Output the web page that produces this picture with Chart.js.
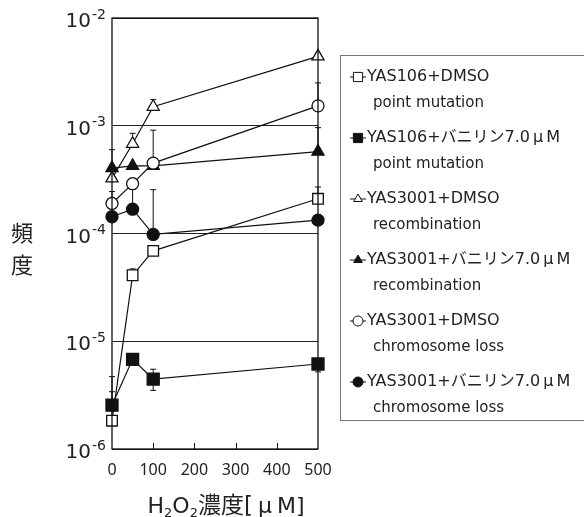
<!DOCTYPE html>
<html>
<head>
<meta charset="utf-8">
<script src="https://cdn.jsdelivr.net/npm/chart.js@4/dist/chart.umd.min.js"></script>
<style>
  html, body { margin: 0; padding: 0; background: #fff; }
  #wrap { width: 584px; height: 517px; }
</style>
</head>
<body>
<div id="wrap"><canvas id="chart" width="584" height="517"></canvas></div>
<script>
// --- data ---
const concentrations = [0, 50, 100, 500];
const xTickValues = [0, 100, 200, 300, 400, 500];
const yTickValues = [1e-6, 1e-5, 1e-4, 1e-3, 1e-2];
const yTickExponents = ['-6', '-5', '-4', '-3', '-2'];

const seriesNames = [
    'YAS106+DMSO', 'YAS106+バニリン7.0μM', 'YAS3001+DMSO',
    'YAS3001+バニリン7.0μM', 'YAS3001+DMSO', 'YAS3001+バニリン7.0μM'
];
const seriesSubs = [
    'point mutation', 'point mutation', 'recombination',
    'recombination', 'chromosome loss', 'chromosome loss'
];

const pm106Dmso     = [1.83e-6, 4.1e-5, 6.9e-5, 2.1e-4];
const pm106Van      = [2.55e-6, 6.8e-6, 4.45e-6, 6.15e-6];
const rec3001Dmso   = [3.25e-4, 6.8e-4, 1.5e-3, 4.4e-3];
const rec3001Van    = [4.05e-4, 4.25e-4, 4.25e-4, 5.75e-4];
const cl3001Dmso    = [1.9e-4, 2.9e-4, 4.5e-4, 1.53e-3];
const cl3001Van     = [1.43e-4, 1.68e-4, 9.8e-5, 1.33e-4];

// error bar ends (null = none)
const pm106DmsoHi   = [3.4e-6, 4.7e-5, null, 2.7e-4];
const pm106VanHi    = [4.7e-6, 7.3e-6, 5.5e-6, 6.6e-6];
const pm106VanLo    = [null, null, 3.5e-6, 5.2e-6];
const rec3001DmsoHi = [null, 8.5e-4, 1.75e-3, null];
const rec3001VanHi  = [6.0e-4, null, null, 9.6e-4];
const cl3001DmsoHi  = [2.45e-4, null, 9.1e-4, 2.5e-3];
const cl3001VanHi   = [null, 2.6e-4, 2.55e-4, null];

const seriesValues = [pm106Dmso, pm106Van, rec3001Dmso, rec3001Van, cl3001Dmso, cl3001Van];
const seriesHi = [pm106DmsoHi, pm106VanHi, rec3001DmsoHi, rec3001VanHi, cl3001DmsoHi, cl3001VanHi];
const seriesLo = [null, pm106VanLo, null, null, null, null];
const pointStyles = ['rect', 'rect', 'triangle', 'triangle', 'circle', 'circle'];
const filled = [false, true, false, true, false, true];
const radii = [7.5, 8.5, 7, 7, 6, 6];
const drawOrder = [3, 4, 2, 5, 0, 1];

const INK = '#111';
const JP_FONT = '"Noto Sans CJK JP", sans-serif';
const LEGEND_FONT = '"DejaVu Sans", "Noto Sans CJK JP", sans-serif';
const NUM_FONT = '"DejaVu Sans", sans-serif';

const datasets = seriesValues.map((vals, i) => ({
    label: seriesNames[i],
    data: concentrations.map((x, j) => ({ x: x, y: vals[j] })),
    showLine: true,
    clip: false,
    borderColor: INK,
    borderWidth: 1.2,
    pointStyle: pointStyles[i],
    pointRadius: radii[i],
    pointBackgroundColor: filled[i] ? INK : '#fff',
    pointBorderColor: INK,
    pointBorderWidth: 1.3,
    order: drawOrder[i]
}));

// draws text, putting a small gap on both sides of μ (full-width look)
function fillSpaced(ctx, text, x, y, gap) {
    const bits = text.split('μ');
    bits.forEach((b, k) => {
        ctx.fillText(b, x, y);
        x += ctx.measureText(b).width;
        if (k < bits.length - 1) {
            x += gap;
            ctx.fillText('μ', x, y);
            x += ctx.measureText('μ').width + gap;
        }
    });
}

// Helper: error bars, frame, tick marks, labels and legend
const extrasPlugin = {
    id: 'extras',
    beforeDatasetsDraw(chart) {
        const ctx = chart.ctx;
        const xs = chart.scales.x, ys = chart.scales.y;
        ctx.save();
        ctx.strokeStyle = INK;
        ctx.lineWidth = 1;
        seriesValues.forEach((vals, i) => {
            concentrations.forEach((c, j) => {
                const px = xs.getPixelForValue(c);
                const py = ys.getPixelForValue(vals[j]);
                [seriesHi[i], seriesLo[i]].forEach(arr => {
                    if (!arr || arr[j] == null) return;
                    const ey = ys.getPixelForValue(arr[j]);
                    ctx.beginPath();
                    ctx.moveTo(px, py);
                    ctx.lineTo(px, ey);
                    ctx.moveTo(px - 3, ey);
                    ctx.lineTo(px + 3, ey);
                    ctx.stroke();
                });
            });
        });
        ctx.restore();
    },
    afterDraw(chart) {
        const ctx = chart.ctx;
        const a = chart.chartArea;
        const xs = chart.scales.x, ys = chart.scales.y;
        ctx.save();

        // inner x tick marks
        ctx.strokeStyle = INK;
        ctx.lineWidth = 1;
        xTickValues.slice(1, -1).forEach(v => {
            const px = Math.round(xs.getPixelForValue(v)) + 0.5;
            ctx.beginPath();
            ctx.moveTo(px, a.bottom);
            ctx.lineTo(px, a.bottom - 6);
            ctx.stroke();
        });

        // y tick labels 10^n
        ctx.fillStyle = '#222';
        ctx.textBaseline = 'middle';
        ctx.textAlign = 'right';
        yTickValues.forEach((v, i) => {
            const py = ys.getPixelForValue(v);
            ctx.font = '14px ' + NUM_FONT;
            const ew = ctx.measureText(yTickExponents[i]).width;
            ctx.fillText(yTickExponents[i], 106, py - 3);
            ctx.font = '20px ' + NUM_FONT;
            ctx.fillText('10', 105 - ew, py + 4);
        });

        // y title
        ctx.font = '22px ' + JP_FONT;
        ctx.textAlign = 'center';
        ctx.fillText('頻', 22, 233);
        ctx.fillText('度', 22, 265);

        // x title with subscripts: [text, size, dy, extra space after]
        ctx.textAlign = 'left';
        ctx.textBaseline = 'alphabetic';
        const parts = [['H', 22, 0, 0], ['2', 13, 4, 0], ['O', 22, 0, 0], ['2', 13, 4, 0],
                       ['濃度[', 23, 0, 5], ['μ', 22, 0, 5], ['M]', 22, 0, 0]];
        let total = 0;
        parts.forEach(p => { ctx.font = p[1] + 'px ' + LEGEND_FONT; total += ctx.measureText(p[0]).width + p[3]; });
        let tx = 226 - total / 2;
        parts.forEach(p => {
            ctx.font = p[1] + 'px ' + LEGEND_FONT;
            ctx.fillText(p[0], tx, 513 + p[2]);
            tx += ctx.measureText(p[0]).width + p[3];
        });

        // legend box
        ctx.strokeStyle = '#777';
        ctx.lineWidth = 1;
        ctx.strokeRect(340.5, 55.5, 300, 365);
        seriesNames.forEach((name, i) => {
            const iy = 77 + i * 61;
            ctx.strokeStyle = INK;
            ctx.lineWidth = 1;
            ctx.beginPath();
            ctx.moveTo(350, iy);
            ctx.lineTo(366, iy);
            ctx.stroke();
            ctx.fillStyle = filled[i] ? INK : '#fff';
            Chart.helpers.drawPoint(ctx, {
                pointStyle: pointStyles[i],
                radius: pointStyles[i] === 'rect' ? 6.5 : 5,
                rotation: 0,
                borderWidth: 1
            }, 358, iy);
            ctx.fillStyle = '#222';
            ctx.textAlign = 'left';
            ctx.textBaseline = 'middle';
            ctx.font = '16px ' + LEGEND_FONT;
            fillSpaced(ctx, name, 367, iy, 3);
            ctx.font = '15px ' + LEGEND_FONT;
            ctx.fillText(seriesSubs[i], 373, iy + 26);
        });

        // frame
        ctx.strokeStyle = INK;
        ctx.lineWidth = 1.3;
        ctx.strokeRect(a.left, a.top, a.right - a.left, a.bottom - a.top);
        ctx.restore();
    }
};

new Chart(document.getElementById('chart'), {
    type: 'scatter',
    data: { datasets: datasets },
    options: {
        responsive: false,
        animation: false,
        layout: { padding: { left: 112, top: 18, right: 266, bottom: 0 } },
        plugins: { legend: { display: false }, tooltip: { enabled: false } },
        scales: {
            x: {
                type: 'linear',
                min: 0,
                max: 500,
                afterBuildTicks: s => { s.ticks = xTickValues.map(v => ({ value: v })); },
                afterFit: s => { s.height = 68; },
                grid: { display: false, drawTicks: false },
                border: { display: false },
                ticks: {
                    padding: 12,
                    color: '#222',
                    font: { size: 16, family: '"Noto Sans", sans-serif' }
                }
            },
            y: {
                type: 'logarithmic',
                min: 1e-6,
                max: 1e-2,
                afterBuildTicks: s => { s.ticks = yTickValues.map(v => ({ value: v })); },
                afterFit: s => { s.width = 0; },
                grid: { color: '#222', lineWidth: 1, drawTicks: false },
                border: { display: false },
                ticks: { display: false }
            }
        }
    },
    plugins: [extrasPlugin]
});
</script>
</body>
</html>
